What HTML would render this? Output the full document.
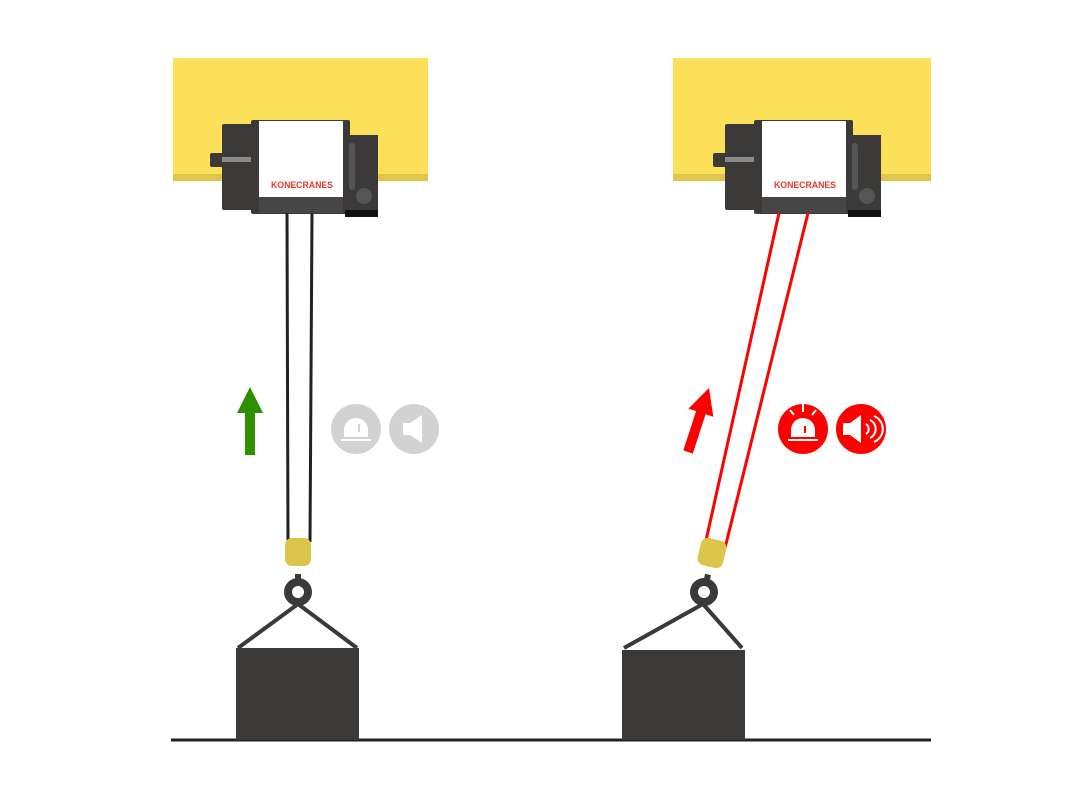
<!DOCTYPE html>
<html><head><style>html,body{margin:0;padding:0;background:#fff}</style></head><body>
<svg width="1067" height="800" viewBox="0 0 1067 800" xmlns="http://www.w3.org/2000/svg">
<defs>
<g id="hoist">
  <rect x="210" y="153" width="14" height="14" rx="2" fill="#3b3a38"/>
  <rect x="222" y="124" width="32" height="86" rx="2" fill="#3b3a38"/>
  <rect x="222" y="157" width="30" height="5" fill="#8a8a8a"/>
  <rect x="251" y="120" width="99" height="94" rx="2" fill="#3b3a38"/>
  <rect x="259" y="121" width="84" height="76" fill="#fff"/>
  <rect x="259" y="197" width="84" height="16" fill="#474645"/>
  <rect x="343" y="135" width="35" height="78" fill="#3b3a38"/>
  <rect x="345" y="210" width="33" height="7" fill="#111"/>
  <rect x="349" y="143" width="6" height="47" rx="3" fill="#555"/>
  <circle cx="364" cy="196" r="8" fill="#555"/>
  <text x="302" y="188" font-family="Liberation Sans, sans-serif" font-size="9" font-weight="bold" fill="#e8352b" text-anchor="middle" textLength="62" lengthAdjust="spacingAndGlyphs">KONECRANES</text>
</g>
<g id="hook">
  <rect x="-3" y="-18" width="6" height="10" fill="#3b3a38"/>
  <circle cx="0" cy="0" r="10" fill="none" stroke="#3b3a38" stroke-width="8"/>
</g>
</defs>

<line x1="171" y1="740" x2="931" y2="740" stroke="#222" stroke-width="3"/>

<!-- LEFT -->
<rect x="173" y="58" width="255" height="123" fill="#fde05a"/>
<rect x="173" y="174" width="255" height="7" fill="#dfc54b"/>
<use href="#hoist"/>
<line x1="287" y1="213" x2="288" y2="542" stroke="#222" stroke-width="3"/>
<line x1="312" y1="213" x2="310" y2="542" stroke="#222" stroke-width="3"/>
<use href="#hook" transform="translate(298,592)"/>
<rect x="285" y="538" width="26" height="28" rx="7" fill="#dcc54b"/>
<line x1="298" y1="604" x2="238" y2="648" stroke="#3b3a38" stroke-width="4"/>
<line x1="298" y1="604" x2="357" y2="648" stroke="#3b3a38" stroke-width="4"/>
<rect x="236" y="648" width="123" height="92" fill="#3b3a38"/>
<polygon points="250,387 263,413 255,413 255,455 245,455 245,413 237,413" fill="#2e8f00"/>
<circle cx="356" cy="429" r="25" fill="#d1d2d4"/>
<path d="M344,437 v-7 a12,12 0 0 1 24,0 v7 z" fill="#fff"/>
<rect x="341" y="439" width="30" height="2" fill="#fff"/>
<rect x="358" y="424" width="2" height="8" fill="#d1d2d4"/>
<circle cx="414" cy="429" r="25" fill="#d1d2d4"/>
<polygon points="403,423 410,423 422,415 422,443 410,435 403,435" fill="#fff"/>

<!-- RIGHT -->
<rect x="673" y="58" width="258" height="123" fill="#fde05a"/>
<rect x="673" y="174" width="258" height="7" fill="#dfc54b"/>
<use href="#hoist" transform="translate(503,0)"/>
<line x1="779" y1="213" x2="705" y2="545" stroke="#f00" stroke-width="3"/>
<line x1="808" y1="213" x2="725" y2="548" stroke="#f00" stroke-width="3"/>
<use href="#hook" transform="translate(704,592) rotate(13)"/>
<rect x="-13" y="-14" width="26" height="28" rx="7" fill="#dcc54b" transform="translate(712,553) rotate(13)"/>
<line x1="703" y1="604" x2="624" y2="648" stroke="#3b3a38" stroke-width="4"/>
<line x1="703" y1="604" x2="742" y2="648" stroke="#3b3a38" stroke-width="4"/>
<rect x="622" y="650" width="123" height="90" fill="#3b3a38"/>
<polygon points="709,388 713.3,416.8 705.6,414.3 692.8,453.6 683.3,450.4 696.1,411.1 688.5,408.6" fill="#f00"/>
<circle cx="803" cy="429" r="25" fill="#f00"/>
<path d="M791,437 v-7 a12,12 0 0 1 24,0 v7 z" fill="#fff"/>
<rect x="788" y="439" width="30" height="2" fill="#fff"/>
<rect x="804" y="426" width="2" height="7" fill="#f00"/>
<line x1="803" y1="404" x2="803" y2="412" stroke="#fff" stroke-width="2"/>
<line x1="790" y1="410" x2="794" y2="415" stroke="#fff" stroke-width="2"/>
<line x1="816" y1="410" x2="812" y2="415" stroke="#fff" stroke-width="2"/>
<circle cx="861" cy="429" r="25" fill="#f00"/>
<polygon points="843,423 850,423 861,415 861,443 850,435 843,435" fill="#fff"/>
<path d="M866,424 a6,6 0 0 1 0,10 M870,420 a10,10 0 0 1 0,18 M874,416 a14,14 0 0 1 0,26" fill="none" stroke="#fff" stroke-width="2"/>
</svg>
</body></html>
